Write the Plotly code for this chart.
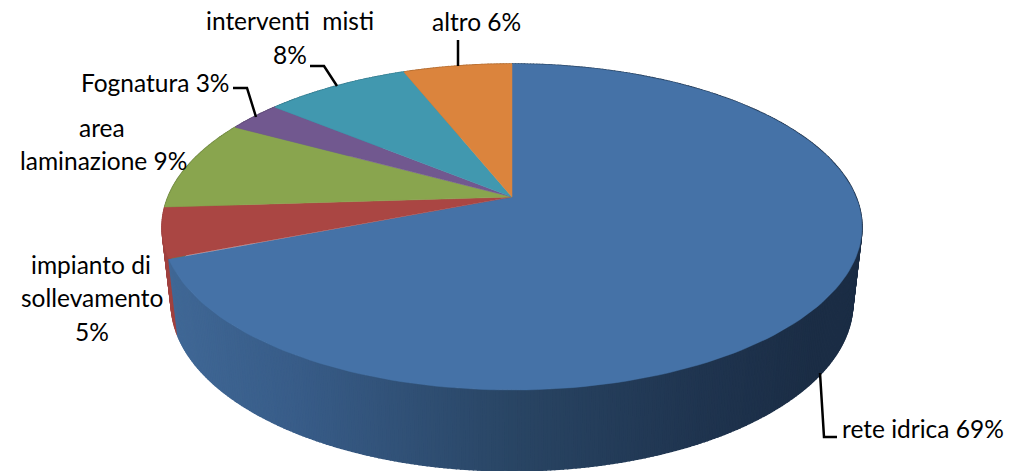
import numpy as np
import plotly.graph_objects as go

categories = ["rete idrica", "impianto di sollevamento", "area laminazione", "Fognatura", "interventi  misti", "altro"]
values = [69, 5, 9, 3, 8, 6]
colors = ["#4572A7", "#AA4643", "#89A54E", "#71588F", "#4198AF", "#DB843D"]
wall_colors = ["#3D6490", "#A04240", "#6E8540", "#5A4672", "#34798C", "#AF6A31"]

W, H = 1019, 471
K = 0.184
TOP = dict(cx=512, cy=197, X=344, Y=157.5)
BOT = dict(cx=512, cy=272, X=335, Y=162.3)


def project(theta, g, r=1.0):
    u, v = r * np.sin(theta), r * np.cos(theta)
    d = 1 + K * v
    return g["cx"] + g["X"] * u / d, g["cy"] - g["Y"] * v / d


def lerp(a, b, t):
    return tuple(a[i] + (b[i] - a[i]) * t for i in range(3))


def blue_wall(x):
    stops = [(172, (64, 104, 150)), (300, (56, 92, 136)), (512, (41, 69, 100)), (700, (31, 52, 79)), (810, (27, 45, 69))]
    if x >= stops[-1][0]:
        return stops[-1][1]
    for (x0, c0), (x1, c1) in zip(stops, stops[1:]):
        if x <= x1:
            return lerp(c0, c1, max(0, (x - x0) / (x1 - x0)))
    return stops[-1][1]


fig = go.Figure()
edges = np.cumsum([0] + values) / sum(values) * 2 * np.pi

# walls: later slices first so the first slice lies over them
for i in reversed(range(len(values))):
    a0, a1 = edges[i], edges[i + 1]
    n = max(2, int(round((a1 - a0) / (2 * np.pi) * 600)))
    th = np.linspace(a0, a1, n + 1)
    for j in range(n):
        tt = np.linspace(th[j], th[j + 1], 3)
        xt, yt = project(tt, TOP)
        xb, yb = project(tt, BOT)
        xs = np.r_[xt, xb[::-1], xt[0]]
        ys = np.r_[yt, yb[::-1], yt[0]]
        if i == 0:
            c = blue_wall(xb.mean())
            col = "rgb(%d,%d,%d)" % tuple(int(round(q)) for q in c)
        else:
            col = wall_colors[i]
        fig.add_trace(go.Scatter(x=xs, y=ys, mode="lines", fill="toself", fillcolor=col,
                                 line=dict(color=col, width=1.5), hoverinfo="skip", showlegend=False))

# top face
for i in range(len(values)):
    th = np.linspace(edges[i], edges[i + 1], 160)
    x, y = project(th, TOP)
    xs = np.r_[TOP["cx"], x, TOP["cx"]]
    ys = np.r_[TOP["cy"], y, TOP["cy"]]
    fig.add_trace(go.Scatter(x=xs, y=ys, mode="lines", fill="toself", fillcolor=colors[i],
                             line=dict(color=colors[i], width=0.5), name=categories[i],
                             showlegend=False, hoverinfo="name"))

label_lines = [
    (f"{categories[0]} {values[0]}%", 923, 428),
    ("impianto di", 91, 264),
    ("sollevamento", 92, 297),
    (f"{values[1]}%", 92, 331),
    ("area", 102, 127),
    (f"laminazione {values[2]}%", 103, 160),
    (f"{categories[3]} {values[3]}%", 155, 82),
    (categories[4], 290, 20),
    (f"{values[4]}%", 290, 54),
    (f"{categories[5]} {values[5]}%", 476, 21),
]
annotations = [dict(x=x, y=y, text=t, xref="x", yref="y", showarrow=False,
                    xanchor="center", yanchor="middle",
                    font=dict(family="Lato", size=24.5, color="#000000"))
               for t, x, y in label_lines]

leaders = [
    "M820,373 L824,437 L837,437",
    "M458,40 L458,66",
    "M310,66 L324,66 L337,86",
    "M233,88 L247,88 L256,117",
]
shapes = [dict(type="path", path=p, xref="x", yref="y", line=dict(color="#000000", width=2.5), layer="above")
          for p in leaders]

fig.update_layout(
    width=W, height=H, autosize=False,
    margin=dict(l=0, r=0, t=0, b=0),
    paper_bgcolor="white", plot_bgcolor="white",
    xaxis=dict(range=[0, W], visible=False, fixedrange=True),
    yaxis=dict(range=[H, 0], visible=False, fixedrange=True),
    annotations=annotations, shapes=shapes, showlegend=False,
)
fig.write_html("out.html", config=dict(displayModeBar=False),
               post_script="document.body.style.margin='0';document.body.style.overflow='hidden';")
